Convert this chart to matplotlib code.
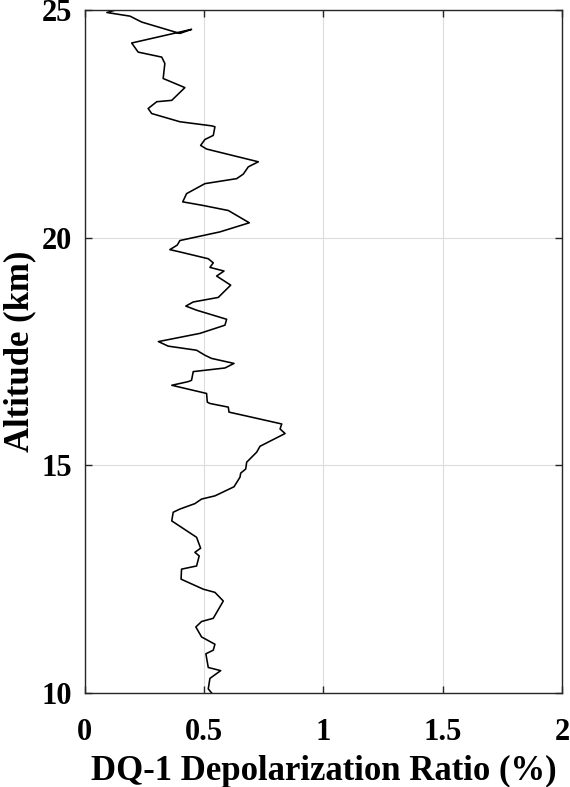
import matplotlib
matplotlib.use("Agg")
import matplotlib.pyplot as plt

depol = [0.126, 0.092, 0.189, 0.238, 0.398, 0.447, 0.196, 0.223, 0.322, 0.335,
         0.328, 0.419, 0.364, 0.301, 0.265, 0.280, 0.398, 0.531, 0.545, 0.538,
         0.503, 0.485, 0.510, 0.727, 0.685, 0.664, 0.636, 0.503, 0.426, 0.410,
         0.496, 0.601, 0.689, 0.566, 0.398, 0.387, 0.356, 0.398, 0.517, 0.538,
         0.524, 0.583, 0.552, 0.611, 0.559, 0.454, 0.423, 0.468, 0.594, 0.587,
         0.482, 0.308, 0.349, 0.468, 0.503, 0.531, 0.625, 0.587, 0.454, 0.447,
         0.433, 0.364, 0.510, 0.513, 0.524, 0.601, 0.604, 0.664, 0.825, 0.818,
         0.839, 0.734, 0.720, 0.678, 0.674, 0.653, 0.650, 0.625, 0.545, 0.489,
         0.461, 0.398, 0.370, 0.364, 0.468, 0.485, 0.461, 0.479, 0.468, 0.405,
         0.403, 0.496, 0.545, 0.580, 0.538, 0.489, 0.465, 0.489, 0.545, 0.538,
         0.507, 0.517, 0.569, 0.524, 0.517, 0.531]
altitude = [25.00, 24.95, 24.87, 24.74, 24.49, 24.58, 24.28, 24.08, 23.97, 23.83,
            23.50, 23.30, 23.02, 22.99, 22.84, 22.73, 22.55, 22.46, 22.44, 22.25,
            22.16, 22.03, 21.95, 21.67, 21.56, 21.40, 21.30, 21.19, 20.97, 20.79,
            20.71, 20.60, 20.33, 20.13, 19.94, 19.84, 19.74, 19.69, 19.54, 19.45,
            19.35, 19.27, 19.16, 18.96, 18.69, 18.59, 18.50, 18.41, 18.21, 18.08,
            17.90, 17.72, 17.62, 17.53, 17.42, 17.35, 17.24, 17.14, 17.06, 16.87,
            16.84, 16.76, 16.58, 16.39, 16.36, 16.28, 16.17, 16.10, 15.91, 15.80,
            15.70, 15.42, 15.29, 15.07, 14.92, 14.83, 14.74, 14.53, 14.33, 14.26,
            14.16, 14.04, 13.97, 13.78, 13.42, 13.18, 13.09, 13.01, 12.79, 12.72,
            12.50, 12.28, 12.21, 12.02, 11.64, 11.57, 11.45, 11.23, 11.07, 10.94,
            10.86, 10.56, 10.49, 10.32, 10.09, 10.00]

xticks = [0, 0.5, 1, 1.5, 2]
xticklabels = ["0", "0.5", "1", "1.5", "2"]
yticks = [10, 15, 20, 25]

plt.rcParams['font.family'] = ['Liberation Serif', 'DejaVu Serif']
plt.rcParams['font.weight'] = 'bold'

fig = plt.figure(figsize=(5.7, 7.87), dpi=100)
ax = fig.add_axes([0.149, 0.1195, 0.837, 0.8675])
ax.plot(depol, altitude, color='black', linewidth=1.15)
ax.set_xlim(0, 2)
ax.set_ylim(10, 25)
ax.set_xticks(xticks)
ax.set_xticklabels(xticklabels)
ax.set_yticks(yticks)
ax.grid(True, color='#dcdcdc', linewidth=0.8)
ax.set_axisbelow(True)
for s in ax.spines.values():
    s.set_color('#262626')
    s.set_linewidth(1.0)
ax.tick_params(direction='in', length=5, width=1.0, color='#262626',
               labelsize=22, top=True, right=True)
ax.tick_params(axis='x', pad=18)
ax.tick_params(axis='y', pad=9)
for lab in ax.get_xticklabels() + ax.get_yticklabels():
    lab.set_fontweight('bold')
ax.set_xlabel('DQ-1 Depolarization Ratio (%)', fontsize=25, fontweight='bold', labelpad=6)
ax.set_ylabel('Altitude (km)', fontsize=25, fontweight='bold', labelpad=4)
fig.savefig('out.png', dpi=100)
